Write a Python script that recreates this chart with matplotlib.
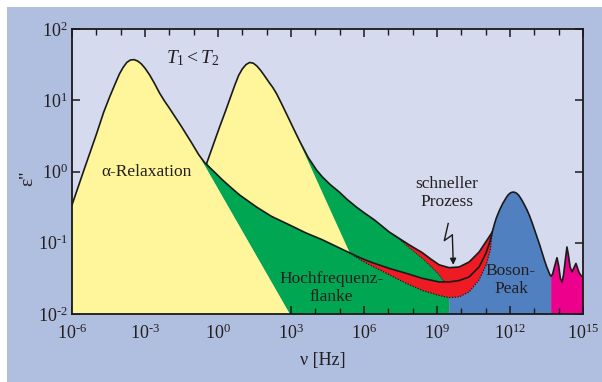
import numpy as np
import matplotlib
matplotlib.use('Agg')
import matplotlib.pyplot as plt
from matplotlib.ticker import FixedLocator, NullLocator, FuncFormatter, NullFormatter
from matplotlib.patches import Rectangle

plt.rcParams['font.family'] = ['Liberation Serif', 'DejaVu Serif']
plt.rcParams['mathtext.fontset'] = 'custom'
plt.rcParams['mathtext.rm'] = 'Liberation Serif'
plt.rcParams['mathtext.it'] = 'Liberation Serif:italic'

# all values as log10(nu/Hz) and log10(eps'')
# alpha relaxation at T1 (pure), last point = end of its power-law flank
alpha1_lognu = [-6.0, -5.5, -5.0, -4.7, -4.45, -4.24, -4.05, -3.9, -3.75, -3.6, -3.45, -3.3, -3.15,
                -3.0, -2.8, -2.6, -2.4, -2.2, -1.98, -1.75, -1.5, -1.3, -1.08, 2.95]
alpha1_logeps = [-0.47, 0.03, 0.52, 0.83, 1.05, 1.22, 1.37, 1.46, 1.53, 1.565, 1.57, 1.55, 1.51,
                 1.45, 1.35, 1.23, 1.10, 0.99, 0.88, 0.76, 0.63, 0.52, 0.40, -2.0]

# T1 total curve after it leaves the alpha flank (high-frequency wing)
wing1_lognu = [-0.8, -0.54, -0.2, 0.19, 0.55, 0.89, 1.59, 2.2, 2.94, 3.6, 4.3, 5.4, 5.9, 6.35,
               7.04, 7.74, 8.4, 9.09, 9.5, 9.91, 10.32, 10.73, 11.02, 11.19]
wing1_logeps = [0.24, 0.12, 0.01, -0.12, -0.23, -0.33, -0.50, -0.63, -0.75, -0.86, -0.96, -1.14, -1.22, -1.28,
                -1.36, -1.43, -1.50, -1.55, -1.55, -1.53, -1.48, -1.34, -1.14, -0.97]

# T2 total curve (from where it rises off the T1 curve)
t2_lognu = [-0.46, -0.2, 0.05, 0.3, 0.5, 0.7, 0.85, 1.0, 1.15, 1.3, 1.45, 1.6, 1.75, 1.92, 2.1, 2.25,
            2.41, 2.6, 2.77, 2.94, 3.15, 3.35, 3.7, 4.05, 4.3, 4.6, 4.99, 5.3, 5.69, 6.05, 6.43,
            7.04, 7.45, 7.86, 8.4, 8.75, 9.09, 9.5, 9.91, 10.32, 10.73, 11.06]
t2_logeps = [0.12, 0.37, 0.61, 0.84, 1.03, 1.22, 1.35, 1.44, 1.50, 1.53, 1.52, 1.48, 1.42, 1.34, 1.25, 1.18,
             1.09, 0.96, 0.84, 0.72, 0.57, 0.43, 0.20, 0.02, -0.08, -0.18, -0.29, -0.39, -0.50, -0.59, -0.68,
             -0.85, -0.94, -1.03, -1.14, -1.23, -1.31, -1.35, -1.34, -1.27, -1.13, -0.96]

# alpha relaxation at T2: leaves the T2 curve at 2.94 and ends on the T1 curve here
alpha2_from_lognu = 2.94
alpha2_end_lognu = 5.4
alpha2_end_logeps = -1.13

# curves without the fast process (dotted)
d1_lognu = [5.4, 5.9, 6.35, 7.04, 7.74, 8.4, 9.09, 9.5, 9.91, 10.32, 10.73, 11.02, 11.19, 11.27]
d1_logeps = [-1.14, -1.25, -1.33, -1.45, -1.57, -1.67, -1.74, -1.77, -1.76, -1.69, -1.52, -1.31, -1.10, -0.85]
d2_lognu = [7.04, 7.45, 7.86, 8.4, 8.8, 9.09, 9.3]
d2_logeps = [-0.85, -0.95, -1.07, -1.22, -1.35, -1.45, -1.55]

# boson peak and the vibrational bands above it
boson_lognu = [11.27, 11.35, 11.43, 11.5, 11.56, 11.63, 11.7, 11.77, 11.84, 11.92, 12.0, 12.09, 12.17,
               12.25, 12.35, 12.45, 12.55, 12.7, 12.8, 12.91, 13.02, 13.12, 13.22, 13.32, 13.42, 13.5,
               13.58, 13.64, 13.69]
boson_logeps = [-0.85, -0.75, -0.66, -0.60, -0.55, -0.50, -0.45, -0.41, -0.37, -0.33, -0.305, -0.29, -0.29,
                -0.30, -0.33, -0.38, -0.44, -0.54, -0.62, -0.72, -0.83, -0.93, -1.03, -1.14, -1.25, -1.33,
                -1.40, -1.45, -1.47]
spikes_lognu = [13.69, 13.75, 13.81, 13.93, 14.0, 14.07, 14.14, 14.2, 14.26, 14.34, 14.4, 14.47, 14.55,
                14.63, 14.71, 14.78, 14.84, 14.92, 15.0]
spikes_logeps = [-1.47, -1.44, -1.36, -1.21, -1.32, -1.50, -1.55, -1.45, -1.28, -1.06, -1.17, -1.34, -1.41,
                 -1.35, -1.29, -1.36, -1.42, -1.46, -1.48]

blue_from = 9.5
floor = -2.0

xtick_exp = list(range(-6, 16, 3))
xminor_exp = list(range(-6, 16))
ytick_exp = list(range(-2, 3))

c_fig = '#b0bee0'
c_ax = '#d5daee'
c_yellow = '#fff59b'
c_green = '#00a651'
c_red = '#ed1c24'
c_blue = '#5080c0'
c_magenta = '#ec008c'
c_text = '#231f20'
c_line = '#1a1a1a'


def pw(a):
    return 10.0 ** np.asarray(a, dtype=float)


def pick(us, vs, cond):
    pts = [(u, v) for u, v in zip(us, vs) if cond(u)]
    return [p[0] for p in pts], [p[1] for p in pts]


def dec_label(val, pos):
    k = int(round(np.log10(val)))
    s = str(abs(k))
    if k < 0:
        s = '\u2010' + s
    return r'$10^{%s}$' % s


fig = plt.figure(figsize=(6.02, 3.82), dpi=100, facecolor='white')
fig.patches.append(Rectangle((7 / 602, 0), 1, 1 - 7 / 382, transform=fig.transFigure,
                             facecolor=c_fig, edgecolor='none', zorder=-10))
ax = fig.add_axes([72 / 602, 1 - 314 / 382, 511 / 602, 285 / 382])
ax.set_facecolor(c_ax)
ax.set_xscale('log')
ax.set_yscale('log')

# green wing area under the upper envelope
wu, wv = pick(wing1_lognu, wing1_logeps, lambda u: u < t2_lognu[0])
tu, tv = pick(t2_lognu, t2_logeps, lambda u: u <= blue_from)
gu = [alpha1_lognu[-2]] + wu + tu + [blue_from, alpha1_lognu[-1]]
gv = [alpha1_logeps[-2]] + wv + tv + [floor, floor]
ax.fill(pw(gu), pw(gv), color=c_green, lw=0, zorder=1)

# blue boson area
tu, tv = pick(t2_lognu, t2_logeps, lambda u: u >= blue_from)
bu = [blue_from] + tu + boson_lognu + [boson_lognu[-1]]
bv = [floor] + tv + boson_logeps + [floor]
ax.fill(pw(bu), pw(bv), color=c_blue, lw=0, zorder=1)

# magenta
ax.fill(pw(spikes_lognu + [spikes_lognu[-1], spikes_lognu[0]]),
        pw(spikes_logeps + [floor, floor]), color=c_magenta, lw=0, zorder=1)

# yellow alpha peaks
ax.fill(pw(alpha1_lognu + [alpha1_lognu[0]]), pw(alpha1_logeps + [floor]),
        color=c_yellow, lw=0, zorder=2)
tu, tv = pick(t2_lognu, t2_logeps, lambda u: u <= alpha2_from_lognu)
wu, wv = pick(wing1_lognu, wing1_logeps, lambda u: t2_lognu[0] < u <= alpha2_end_lognu)
ax.fill(pw(tu + [alpha2_end_lognu] + wu[::-1]), pw(tv + [alpha2_end_logeps] + wv[::-1]),
        color=c_yellow, lw=0, zorder=2)

# red: fast process
wu, wv = pick(wing1_lognu, wing1_logeps, lambda u: u >= d1_lognu[0])
ax.fill(pw(wu + d1_lognu[::-1]), pw(wv + d1_logeps[::-1]), color=c_red, lw=0, zorder=3)
tu, tv = pick(t2_lognu, t2_logeps, lambda u: u >= d2_lognu[0])
wu, wv = pick(wing1_lognu, wing1_logeps, lambda u: u > d2_lognu[-1])
ax.fill(pw(tu + [boson_lognu[0]] + wu[::-1] + d2_lognu[::-1]),
        pw(tv + [boson_logeps[0]] + wv[::-1] + d2_logeps[::-1]), color=c_red, lw=0, zorder=3)

# curves
c1u = alpha1_lognu[:-1] + wing1_lognu + [boson_lognu[0]]
c1v = alpha1_logeps[:-1] + wing1_logeps + [boson_logeps[0]]
c2u = t2_lognu + boson_lognu + spikes_lognu[1:]
c2v = t2_logeps + boson_logeps + spikes_logeps[1:]
ax.plot(pw(c1u), pw(c1v), color=c_line, lw=1.2, zorder=5, solid_joinstyle='round')
ax.plot(pw(c2u), pw(c2v), color=c_line, lw=1.2, zorder=5, solid_joinstyle='round')
ax.plot(pw(d1_lognu), pw(d1_logeps), color=c_line, lw=0.9, ls=(0, (1, 1.2)), zorder=5)
ax.plot(pw(d2_lognu), pw(d2_logeps), color=c_line, lw=0.7, ls=(0, (1, 1.2)), zorder=5)

# lightning arrow for "schneller Prozess"
ax.plot(pw([9.46, 9.30, 9.63]), pw([-0.73, -0.97, -0.89]), color=c_line, lw=1.0, zorder=6)
ax.annotate('', xy=(10 ** 9.67, 10 ** -1.31), xytext=(10 ** 9.63, 10 ** -0.89),
            arrowprops=dict(arrowstyle='-|>', color=c_line, lw=1.0, mutation_scale=9,
                            shrinkA=0, shrinkB=0), zorder=6)

ax.set_xlim(1e-6, 1e15)
ax.set_ylim(1e-2, 1e2)

ax.xaxis.set_major_locator(FixedLocator(pw(xtick_exp)))
ax.xaxis.set_minor_locator(FixedLocator(pw(xminor_exp)))
ax.xaxis.set_minor_formatter(NullFormatter())
ax.yaxis.set_major_locator(FixedLocator(pw(ytick_exp)))
ax.yaxis.set_minor_locator(NullLocator())
ax.xaxis.set_major_formatter(FuncFormatter(dec_label))
ax.yaxis.set_major_formatter(FuncFormatter(dec_label))
ax.tick_params(which='both', direction='in', top=True, right=True, colors=c_line,
               labelcolor=c_text, labelsize=13)
ax.tick_params(which='major', length=6, width=1.1)
ax.tick_params(which='minor', length=4, width=1.0)
ax.tick_params(axis='x', which='major', pad=7)
ax.tick_params(axis='y', which='major', pad=3)
for s in ax.spines.values():
    s.set_linewidth(1.3)
    s.set_color(c_line)
    s.set_zorder(7)

tk = dict(color=c_text, fontsize=12.5, ha='center', va='center', transform=ax.transAxes, zorder=8)
ax.text(0.145, 0.498, 'α-Relaxation', **tk)
ax.text(0.236, 0.898, r'$T_1 < T_2$', color=c_text, fontsize=14, ha='center', va='center',
        transform=ax.transAxes, zorder=8)
ax.text(0.734, 0.425, 'schneller\nProzess', multialignment='center', **tk)
ax.text(0.507, 0.091, 'Hochfrequenz-\nflanke', multialignment='center', **tk)
ax.text(0.859, 0.119, 'Boson-\nPeak', multialignment='center', **tk)

fig.text(28 / 602, 1 - 178 / 382, "ε''", rotation=90, fontsize=14, color=c_text,
         ha='center', va='center')
fig.text(323 / 602, 1 - 360 / 382, 'ν [Hz]', fontsize=13, color=c_text,
         ha='center', va='center')

fig.savefig('out.png', dpi=100, facecolor=fig.get_facecolor())
